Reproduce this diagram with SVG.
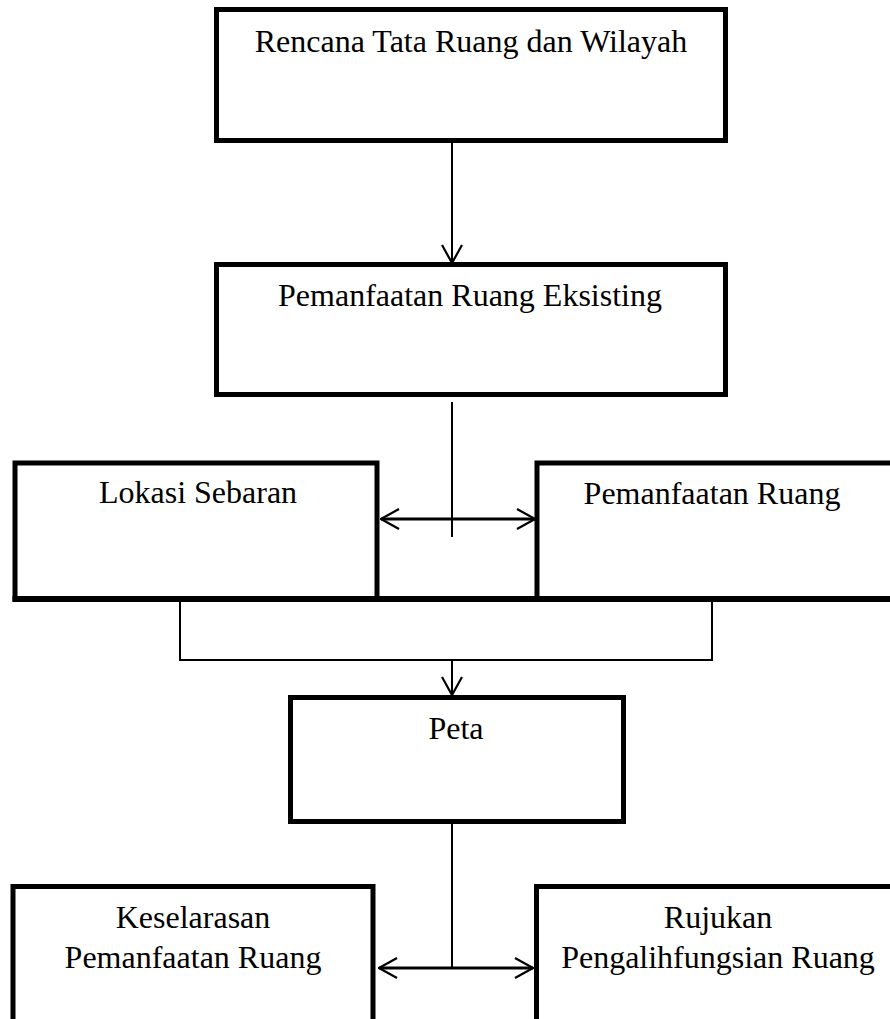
<svg xmlns="http://www.w3.org/2000/svg" width="890" height="1019" viewBox="0 0 890 1019">
<style>
.box{fill:#fff;stroke:#000;stroke-width:5}
.lbl{font-family:"Liberation Serif","Times New Roman",serif;font-size:32px;fill:#000;text-anchor:middle}
.ln{fill:none;stroke:#000;stroke-width:2}
.ln2{fill:none;stroke:#000;stroke-width:2.8}
</style>
<defs>
<marker id="ah" viewBox="0 0 20 22" refX="19" refY="11" markerWidth="20" markerHeight="22" markerUnits="userSpaceOnUse" orient="auto-start-reverse">
<path d="M1,1 L19,11 L1,21" fill="none" stroke="#000" stroke-width="2.2"/>
</marker>
</defs>
<rect width="890" height="1019" fill="#fff"/>
<g id="connectors">
<line class="ln" x1="452" y1="143" x2="452" y2="263" marker-end="url(#ah)"/>
<line class="ln" x1="452" y1="402" x2="452" y2="537"/>
<line class="ln2" x1="381" y1="519" x2="535" y2="519" marker-start="url(#ah)" marker-end="url(#ah)"/>
<path class="ln" d="M180,602 V660 H712 V602"/>
<line class="ln" x1="452" y1="660" x2="452" y2="695" marker-end="url(#ah)"/>
<line class="ln" x1="452" y1="824" x2="452" y2="968"/>
<line class="ln2" x1="379" y1="968" x2="533" y2="968" marker-start="url(#ah)" marker-end="url(#ah)"/>
</g>
<g id="n1">
<rect class="box" x="216.5" y="9.5" width="509" height="131"/>
<text class="lbl" x="471" y="52">Rencana Tata Ruang dan Wilayah</text>
</g>
<g id="n2">
<rect class="box" x="216.5" y="264.5" width="509" height="130"/>
<text class="lbl" x="470" y="306">Pemanfaatan Ruang Eksisting</text>
</g>
<g id="n3">
<rect class="box" x="15" y="463" width="362" height="136"/>
<text class="lbl" x="198" y="503">Lokasi Sebaran</text>
</g>
<g id="n4">
<rect class="box" x="537" y="463" width="360" height="136"/>
<text class="lbl" x="712" y="504">Pemanfaatan Ruang</text>
</g>
<g id="n5">
<rect class="box" x="290.5" y="697.5" width="333" height="124"/>
<text class="lbl" x="456" y="739">Peta</text>
</g>
<g id="n6">
<rect class="box" x="13" y="886.5" width="360" height="200"/>
<text class="lbl" x="193" y="928">Keselarasan</text>
<text class="lbl" x="193" y="968">Pemanfaatan Ruang</text>
</g>
<g id="n7">
<rect class="box" x="536.5" y="886.5" width="370" height="200"/>
<text class="lbl" x="718" y="928">Rujukan</text>
<text class="lbl" x="718" y="968">Pengalihfungsian Ruang</text>
</g>
<g id="base-line">
<line x1="12.5" y1="599" x2="890" y2="599" stroke="#000" stroke-width="6"/>
</g>
</svg>
